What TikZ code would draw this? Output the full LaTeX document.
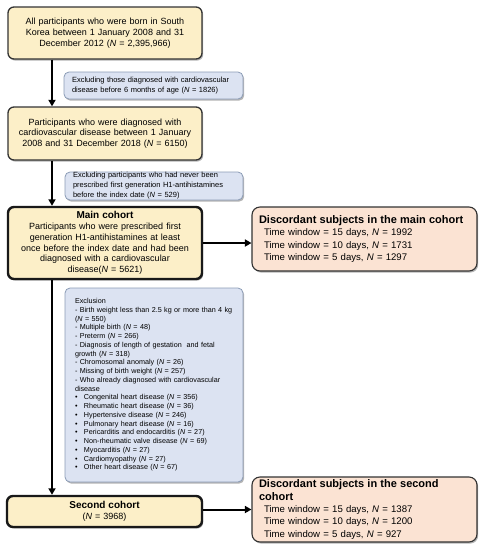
\documentclass[tikz,border=0pt]{standalone}
\usepackage{fontspec}
\setmainfont{Liberation Sans}
\usetikzlibrary{shadows,arrows.meta}
\definecolor{yfill}{HTML}{FCEFC8}
\definecolor{bfill}{HTML}{DCE3F2}
\definecolor{pfill}{HTML}{FBE3D3}
\definecolor{bline}{HTML}{8A9BB5}
\tikzset{
  shad/.style={drop shadow={shadow xshift=1.2pt,shadow yshift=-1.6pt,opacity=0.45,fill=black!65}},
  ybox/.style={shad, draw=black!80, line width=1.3pt, fill=yfill, rounded corners=6pt,
    align=center, inner sep=0pt, font=\fontsize{9}{10.8}\selectfont},
  ythick/.style={ybox, line width=2.4pt, draw=black!90},
  bbox/.style={shad, draw=bline, line width=0.8pt, fill=bfill, rounded corners=5pt,
    align=left, inner sep=0pt, font=\fontsize{7.5}{10}\selectfont},
  pbox/.style={shad, draw=black!80, line width=1.1pt, fill=pfill, rounded corners=8pt,
    align=left, inner sep=0pt, font=\fontsize{9.6}{12.3}\selectfont},
  arr/.style={line width=2pt, -{Triangle[length=6.5pt,width=7pt]}}
}
\newcommand{\NN}{\textit{N}}
\newcommand{\bul}{\makebox[9pt][l]{•}}
\hyphenpenalty=10000
\begin{document}
\begin{tikzpicture}[x=1pt,y=-1pt]
\useasboundingbox (0,0) rectangle (486,550);

\node[ybox, minimum width=194pt, minimum height=52pt, text width=188pt] (b1) at (105,33)
  {All participants who were born in South\\Korea between 1 January 2008 and 31\\December 2012 (\NN{} = 2,395,966)};

\node[bbox, minimum width=179pt, minimum height=27pt, text width=163pt] (e1) at (153.5,85.5)
  {Excluding those diagnosed with cardiovascular\\disease before 6 months of age (\NN{} = 1826)};

\node[ybox, minimum width=194pt, minimum height=53pt, text width=188pt] (b2) at (105,133.5)
  {Participants who were diagnosed with\\cardiovascular disease between 1 January\\2008 and 31 December 2018 (\NN{} = 6150)};

\node[bbox, minimum width=178pt, minimum height=28pt, text width=162pt] (e2) at (154,186)
  {Excluding participants who had never been\\prescribed first generation H1-antihistamines\\before the index date (\NN{} = 529)};

\node[ythick, minimum width=194pt, minimum height=72pt, text width=188pt] (mc) at (105,243)
  {{\fontsize{10}{12.5}\selectfont\bfseries Main cohort}\\Participants who were prescribed first\\generation H1-antihistamines at least\\once before the index date and had been\\diagnosed with a cardiovascular\\disease(\NN{} = 5621)};

\node[pbox, minimum width=225pt, minimum height=64pt, text width=211pt] (d1) at (364.5,239)
  {\mbox{\fontsize{11}{13}\selectfont\bfseries Discordant subjects in the main cohort}\\
   \hspace*{5pt}Time window = 15 days, \NN{} = 1992\\
   \hspace*{5pt}Time window = 10 days, \NN{} = 1731\\
   \hspace*{5pt}Time window = 5 days, \NN{} = 1297};

\node[bbox, minimum width=178pt, minimum height=194pt, text width=158pt,
  font=\fontsize{7.2}{8.75}\selectfont] (e3) at (154,385)
  {Exclusion\\
   - Birth weight less than 2.5 kg or more than 4 kg\\
   (\NN{} = 550)\\
   - Multiple birth (\NN{} = 48)\\
   - Preterm (\NN{} = 266)\\
   - Diagnosis of length of gestation\ \ and fetal\\
   growth (\NN{} = 318)\\
   - Chromosomal anomaly (\NN{} = 26)\\
   - Missing of birth weight (\NN{} = 257)\\
   - Who already diagnosed with cardiovascular\\
   disease\\
   \bul Congenital heart disease (\NN{} = 356)\\
   \bul Rheumatic heart disease (\NN{} = 36)\\
   \bul Hypertensive disease (\NN{} = 246)\\
   \bul Pulmonary heart disease (\NN{} = 16)\\
   \bul Pericarditis and endocarditis (\NN{} = 27)\\
   \bul Non-rheumatic valve disease (\NN{} = 69)\\
   \bul Myocarditis (\NN{} = 27)\\
   \bul Cardiomyopathy (\NN{} = 27)\\
   \bul Other heart disease (\NN{} = 67)};

\node[ythick, minimum width=195pt, minimum height=31pt, text width=188pt] (sc) at (104.5,511.5)
  {{\fontsize{10}{11.5}\selectfont\bfseries Second cohort}\\(\NN{} = 3968)};

\node[pbox, minimum width=225pt, minimum height=65pt, text width=211pt] (d2) at (364.5,509.5)
  {{\fontsize{11}{13}\selectfont\bfseries Discordant subjects in the second\\cohort}\\
   \hspace*{5pt}Time window = 15 days, \NN{} = 1387\\
   \hspace*{5pt}Time window = 10 days, \NN{} = 1200\\
   \hspace*{5pt}Time window = 5 days, \NN{} = 927};

\coordinate (col) at (52,0);
\draw[arr] (b1.south -| col) -- (b2.north -| col);
\draw[arr] (b2.south -| col) -- (mc.north -| col);
\draw[arr] (mc.south -| col) -- (sc.north -| col);
\draw[arr] (mc.east) -- (d1.west |- mc.east);
\draw[arr] (sc.east |- d2.west) -- (d2.west);
\end{tikzpicture}
\end{document}
